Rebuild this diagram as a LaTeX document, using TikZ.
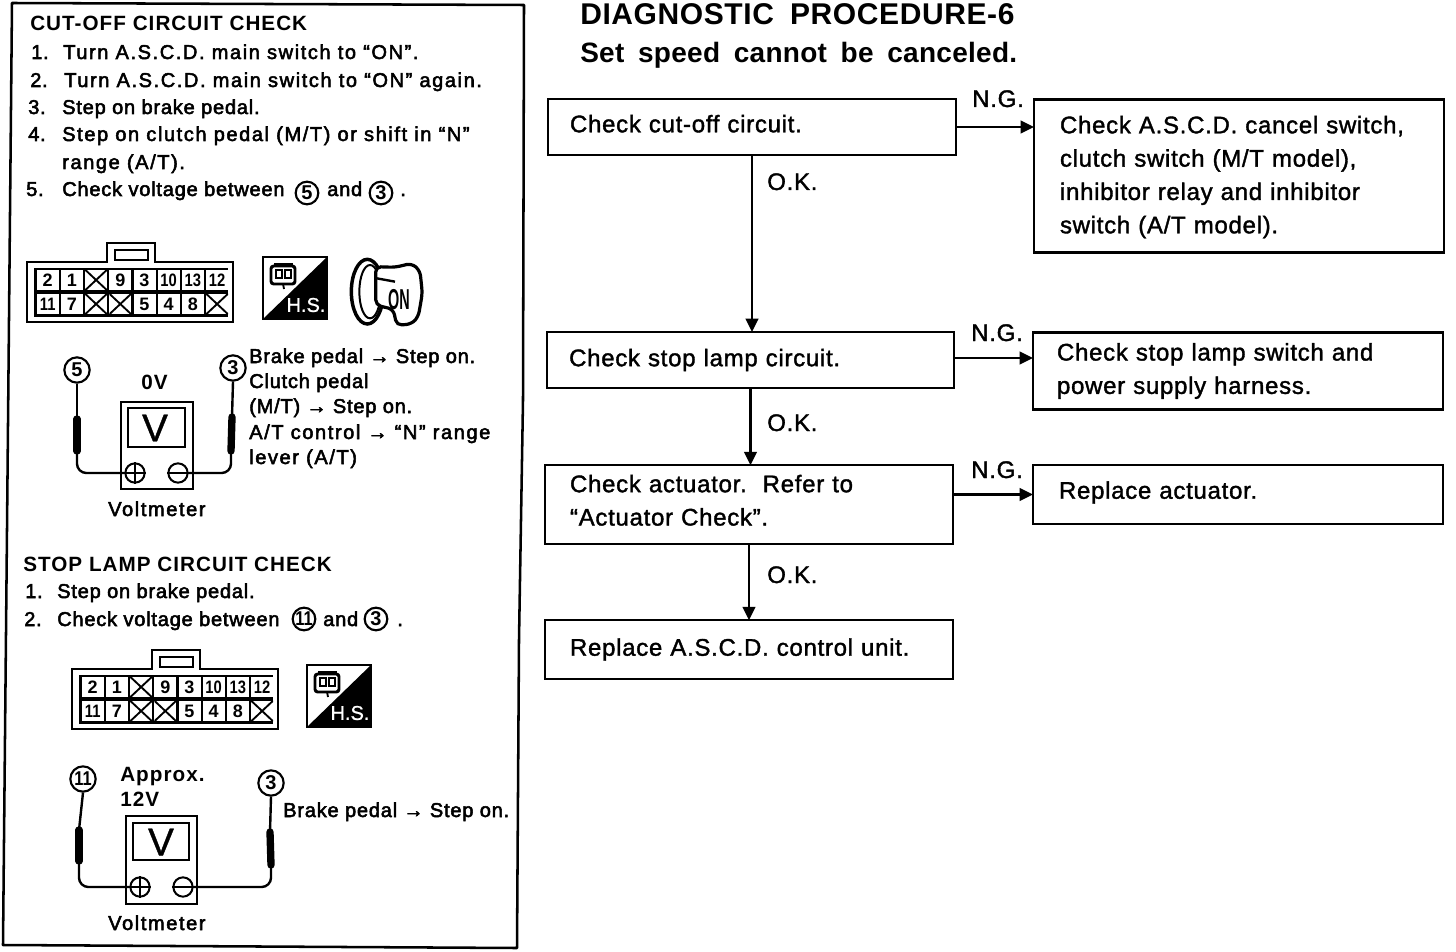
\documentclass[tikz,border=0pt]{standalone}
\usepackage{fontspec}
\usetikzlibrary{arrows.meta,shapes.geometric}
\setmainfont{Liberation Sans}
\newfontfamily\fmain[FakeBold=1.5,LetterSpace=3]{Liberation Sans}
\newfontfamily\fvee[FakeBold=1.0]{Liberation Sans}
\newfontfamily\fside[FakeBold=2.6,LetterSpace=4]{Liberation Sans}
\newfontfamily\fwide[FakeBold=2.6,LetterSpace=8]{Liberation Sans}
\newfontfamily\fhead[LetterSpace=5]{Liberation Sans Bold}
\newfontfamily\ftitle[WordSpace=1.8,LetterSpace=2]{Liberation Sans Bold}
\newfontfamily\fsub[WordSpace=1.7,LetterSpace=1]{Liberation Sans Bold}
\newfontfamily\fcell{Liberation Sans Bold}
\newcommand{\lift}[2]{\raisebox{#1}[0.72em][0.2em]{#2}}
\newcommand{\nrw}[1]{\scalebox{.82}[1]{#1}}
\tikzset{
 ink/.style={line width=1.9pt,draw=black},
 lead/.style={line width=1.8pt,draw=black,rounded corners=7pt},
 probe/.style={line width=5.5pt,draw=black,line cap=round},
 flow/.style={line width=1.7pt,draw=black,-{Triangle[length=10pt,width=9.5pt]}},
 fbox/.style 2 args={draw=black,line width=1.9pt,fill=white,minimum width=#1,minimum height=#2,outer sep=0pt,inner ysep=0pt,inner xsep=0pt,align=left},
 ftext/.style={font=\fontsize{18}{25}\fmain},
 tag/.style={inner sep=0pt,anchor=base west,font=\fontsize{18}{20}\fmain},
 side/.style={inner sep=0pt,anchor=base west,font=\fontsize{15}{16}\fside},
 sidew/.style={inner sep=0pt,anchor=base west,font=\fontsize{15}{16}\fwide},
 head/.style={inner sep=0pt,anchor=base west,font=\fontsize{15.5}{16}\fhead},
 title/.style={inner sep=0pt,anchor=base west,font=\fontsize{22.5}{24}\ftitle},
 subt/.style={inner sep=0pt,anchor=base west,font=\fontsize{21}{24}\fsub},
 numc/.style={circle,draw=black,line width=1.6pt,fill=white,minimum size=17pt,inner sep=0pt,font=\fontsize{15}{15}\fcell},
 numb/.style={numc,minimum size=19pt},
 termc/.style={circle,draw=black,line width=1.5pt,fill=white,minimum size=14.5pt,inner sep=0pt},
 cell/.style={fill=white,minimum width=16.5pt,minimum height=15.5pt,inner sep=0pt,font=\fontsize{13.5}{13.5}\fcell},
 xcell/.style={cell,path picture={\draw[line width=1.4pt] (path picture bounding box.north west)--(path picture bounding box.south east) (path picture bounding box.south west)--(path picture bounding box.north east);}},
}
\newcommand{\connblock}[3]{%
 \begin{scope}[shift={(#2,#3)}]
  \draw[ink,fill=white] (0,0) -- (80,0) -- (80,-19) -- (128,-19) -- (128,0) -- (206,0) -- (206,60) -- (0,60) -- cycle;
  \draw[line width=1.6pt] (88,-12) rectangle (121,-2);
  \fill[black] (7,6) rectangle (201,55);
  \foreach \i/\lab/\sty in {0/2/cell,1/1/cell,2//xcell,3/9/cell,4/3/cell,5/\nrw{10}/cell,6/\nrw{13}/cell,7/\nrw{12}/cell}
   \node[\sty] (#1u\i) at ({20.7+24.2*\i},18) {\lab};
  \foreach \i/\lab/\sty in {0/\nrw{11}/cell,1/7/cell,2//xcell,3//xcell,4/5/cell,5/4/cell,6/8/cell,7//xcell}
   \node[\sty] (#1l\i) at ({20.7+24.2*\i},42) {\lab};
 \end{scope}}
\newcommand{\hsicon}[3]{%
 \begin{scope}[shift={(#2,#3)}]
  \draw[line width=1.5pt,fill=white] (0,0) rectangle (64,62);
  \fill[black] (0,62) -- (64,0) -- (64,62) -- cycle;
  \node[inner sep=0pt,text=white,font=\fontsize{15}{15}\fvee] (#1) at (43,48) {H.S.};
  \draw[line width=2.2pt,fill=white,rounded corners=2pt] (8,9) rectangle (32,27);
  \draw[line width=1.5pt] (13,13) rectangle (19,21) (22,13) rectangle (28,21) (11,7) -- (30,7);
  \draw[line width=1.4pt] (20,27) -- (21,32);
 \end{scope}}
\begin{document}
\begin{tikzpicture}[x=0.75pt,y=-0.75pt]
\useasboundingbox (0,0) rectangle (1456,952);
\fill[white] (0,0) rectangle (1456,952);
% panel frame
\draw[line width=1.9pt,line join=round] (12,3) -- (524,5) -- (523,400) -- (519,640) -- (517,948) -- (3,945) -- (7,530) -- cycle;
% left text block 1
\node[head] (h1) at (30,31) {CUT-OFF CIRCUIT CHECK};
\node[side] (a1) at (31,59) {1.}; \node[sidew] (a1t) at (63,59) {Turn A.S.C.D. main switch to “ON”.};
\node[side] (a2) at (30,87) {2.}; \node[sidew] (a2t) at (64,87) {Turn A.S.C.D. main switch to “ON” again.};
\node[side] (a3) at (28,114) {3.}; \node[side] (a3t) at (62,114) {Step on brake pedal.};
\node[side] (a4) at (28,141) {4.}; \node[sidew] (a4t) at (62,141) {Step on clutch pedal (M/T) or shift in “N”};
\node[sidew] (a4u) at (62,169) {range (A/T).};
\node[side] (a5) at (26,196) {5.}; \node[side] (a5t) at (62,196) {Check voltage between};
\node[numc] (a5c) at (307,193) {5};
\node[side] (a5a) at (327,196) {and};
\node[numc] (a5d) at (381,193) {3};
\node[side] (a5e) at (400,196) {.};
\connblock{ca}{27}{262}
\hsicon{hsa}{263}{257}
% key
\begin{scope}[shift={(255,250)},x=0.25pt,y=-0.25pt]
 \draw[line width=2.6pt] (337,125) ellipse [x radius=48,y radius=97];
 \draw[line width=1.5pt] (345,125) ellipse [x radius=32,y radius=80];
 \draw[line width=2.4pt,fill=white,rounded corners=4pt] (362,50) -- (420,52) -- (470,40) -- (495,62) -- (502,130) -- (490,200) -- (470,222) -- (425,226) -- (415,178) -- (362,165) -- cycle;
 \draw[line width=1.8pt] (365,85) -- (420,95);
 \node[inner sep=0pt] (keyon) at (432,148) {\fontsize{18}{18}\fcell\scalebox{0.6}[1.2]{ON}};
\end{scope}
% meter 1
\node[head] (v0) at (141,389) {0V};
\draw[ink] (121,402) rectangle (193,489);
\draw[ink] (128,408) rectangle (185,447);
\node[inner sep=0pt,font=\fontsize{29}{29}\fvee] (vm1) at (155,428) {V};
\node[termc] (p1) at (135,473) {};
\node[termc] (m1) at (178,473) {};
\draw[line width=1.5pt] (p1.west) -- (p1.east) (p1.north) -- (p1.south) (m1.west) -- (m1.east);
\node[numb] (c5) at (77,370) {5};
\node[numb] (c3) at (233,368) {3};
\coordinate (s1) at (77,419); \coordinate (s2) at (77,451);
\coordinate (s3) at (232,417); \coordinate (s4) at (231,451);
\draw[lead] (c5.south) -- (s1);
\draw[probe] (s1) -- (s2);
\draw[lead] (s2) |- (p1.west);
\draw[lead] (c3.south) -- (s3);
\draw[probe] (s3) -- (s4);
\draw[lead] (s4) |- (m1.east);
\node[sidew] (vl1) at (108,516) {Voltmeter};
\node[side] (t1) at (249,363) {Brake pedal → Step on.};
\node[side] (t2) at (249,388) {Clutch pedal};
\node[side] (t3) at (249,413) {(M/T) → Step on.};
\node[sidew] (t4) at (249,439) {A/T control → “N” range};
\node[sidew] (t5) at (249,464) {lever (A/T)};
% left text block 2
\node[head] (h2) at (23,571) {STOP LAMP CIRCUIT CHECK};
\node[side] (b1) at (25,598) {1.}; \node[side] (b1t) at (57,598) {Step on brake pedal.};
\node[side] (b2) at (24,626) {2.}; \node[side] (b2t) at (57,626) {Check voltage between};
\node[numc] (b2c) at (304,619) {\nrw{11}};
\node[side] (b2a) at (323,626) {and};
\node[numc] (b2d) at (376,619) {3};
\node[side] (b2e) at (397,626) {.};
\connblock{cb}{72}{669}
\hsicon{hsb}{307}{665}
% meter 2
\node[head] (ap) at (120,781) {Approx.};
\node[head] (v12) at (120,806) {12V};
\draw[ink] (126,816) rectangle (197,904);
\draw[ink] (133,823) rectangle (189,860);
\node[inner sep=0pt,font=\fontsize{29}{29}\fvee] (vm2) at (161,842) {V};
\node[termc] (p2) at (140,887) {};
\node[termc] (m2) at (183,887) {};
\draw[line width=1.5pt] (p2.west) -- (p2.east) (p2.north) -- (p2.south) (m2.west) -- (m2.east);
\node[numb] (c11) at (83,779) {\nrw{11}};
\node[numb] (c3b) at (271,783) {3};
\coordinate (q1) at (79,830); \coordinate (q2) at (79,861);
\coordinate (q3) at (270,832); \coordinate (q4) at (271,865);
\draw[lead] (c11.south) -- (q1);
\draw[probe] (q1) -- (q2);
\draw[lead] (q2) |- (p2.west);
\draw[lead] (c3b.south) -- (q3);
\draw[probe] (q3) -- (q4);
\draw[lead] (q4) |- (m2.east);
\node[sidew] (vl2) at (108,930) {Voltmeter};
\node[side] (t6) at (283,817) {Brake pedal → Step on.};
% titles
\node[title] (ttl) at (580,25) {DIAGNOSTIC PROCEDURE-6};
\node[subt] (sub) at (580,63) {Set speed cannot be canceled.};
% flow chart
\node[fbox={306pt}{42pt},ftext,text width=273pt,inner xsep=16.5pt] (f1) at (752,127) {\lift{.7pt}{Check cut-off circuit.}};
\node[fbox={305pt}{42pt},ftext,text width=272pt,inner xsep=16.5pt] (f2) at (750.5,360) {Check stop lamp circuit.};
\node[fbox={306pt}{59pt},ftext,text width=268.5pt,inner xsep=18.75pt] (f3) at (749,504.5) {\lift{1.4pt}{Check actuator.\ \ Refer to}\\\lift{1.4pt}{“Actuator Check”.}};
\node[fbox={306pt}{44pt},ftext,text width=268.5pt,inner xsep=18.75pt] (f4) at (749,649.5) {Replace A.S.C.D. control unit.};
\node[fbox={307.5pt}{115pt},ftext,text width=268.5pt,inner xsep=19.5pt] (g1) at (1239,176) {\lift{-.8pt}{Check A.S.C.D. cancel switch,}\\\lift{-.8pt}{clutch switch (M/T model),}\\\lift{-.8pt}{inhibitor relay and inhibitor}\\\lift{-.8pt}{switch (A/T model).}};
\node[fbox={307.5pt}{58pt},ftext,text width=271.5pt,inner xsep=18pt] (g2) at (1238,371) {Check stop lamp switch and\\power supply harness.};
\node[fbox={307.5pt}{44pt},ftext,text width=268.5pt,inner xsep=19.5pt] (g3) at (1238,494.5) {\lift{1.5pt}{Replace actuator.}};
\draw[flow] (f1.south) -- (f1.south |- f2.north);
\draw[flow] (f2.south) -- (f3.north -| f2.south);
\draw[flow] (f3.south) -- (f4.north);
\draw[flow] (f1.east) -- (f1.east -| g1.west);
\draw[flow] ([yshift=1.5pt]f2.east) -- ([yshift=1.5pt]f2.east -| g2.west);
\draw[flow] (f3.east |- g3.west) -- (g3.west);
\node[tag] (n1) at (972,107) {N.G.};
\node[tag] (n2) at (971,341) {N.G.};
\node[tag] (n3) at (971,478) {N.G.};
\node[tag] (o1) at (767,190) {O.K.};
\node[tag] (o2) at (767,431) {O.K.};
\node[tag] (o3) at (767,583) {O.K.};
\end{tikzpicture}
\end{document}
